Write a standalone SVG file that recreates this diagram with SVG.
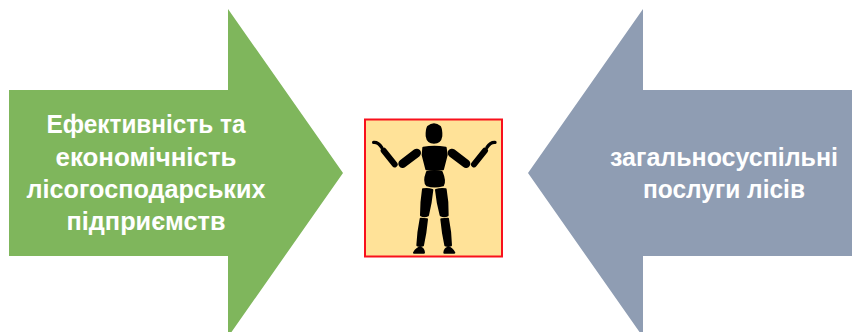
<svg xmlns="http://www.w3.org/2000/svg" width="852" height="332" viewBox="0 0 852 332">
<style>
text{font-family:"Liberation Sans","Open Sans",sans-serif;font-weight:700;font-size:25px;fill:#fff;text-anchor:middle}
.b{fill:#000;stroke:#000;stroke-width:6;stroke-linejoin:round}
.l{stroke:#000;stroke-linecap:round;fill:none}
</style>
<rect width="852" height="332" fill="#fff"/>
<g id="left-arrow">
<polygon points="9,90 228,90 228,9 343,173 228,337 228,256 9,256" fill="#7FB65C"/>
<text x="146" y="133" textLength="199" lengthAdjust="spacingAndGlyphs">Ефективність та</text>
<text x="146" y="166" textLength="181" lengthAdjust="spacingAndGlyphs">економічність</text>
<text x="146" y="198" textLength="239" lengthAdjust="spacingAndGlyphs">лісогосподарських</text>
<text x="146" y="230" textLength="159" lengthAdjust="spacingAndGlyphs">підприємств</text>
</g>
<g id="right-arrow">
<polygon points="528,173 643,9 643,90 852,90 852,256 643,256 643,337" fill="#8F9DB3"/>
<text x="724" y="166" textLength="228" lengthAdjust="spacingAndGlyphs">загальносуспільні</text>
<text x="724" y="198" textLength="162" lengthAdjust="spacingAndGlyphs">послуги лісів</text>
</g>
<g id="figure-node">
<rect x="365" y="119.500" width="137" height="137" fill="#FFE298" stroke="#F8101C" stroke-width="2"/>
<g transform="translate(355,110) scale(.3333)">
<path class="b" d="M219 50Q237 36 255 50Q260 60 259 78Q256 98 237 98Q218 98 215 78Q214 60 219 50Z"/>
<path class="b" d="M205 113Q238 107 272 113L275 135L264 178Q238 182 214 178L203 135Z"/>
<path class="b" d="M216 186Q238 182 260 186Q272 215 264 226Q238 233 216 226Q205 215 216 186Z"/>
<path class="b" d="M204 238Q218 235 232 240Q228 280 219 316Q208 322 198 316Q198 275 204 238Z"/>
<path class="b" d="M243 240Q258 235 272 238Q279 275 278 316Q268 322 257 316Q247 280 243 240Z"/>
<path class="b" d="M197 326L216 328Q212 370 204 406Q195 410 187 406Q189 365 197 326Z"/>
<path class="b" d="M259 328L279 326Q287 365 288 406Q280 410 271 406Q263 370 259 328Z"/>
<path class="b" d="M177 428Q186 412 197 413Q206 416 207 428Z"/>
<path class="b" d="M268 428Q269 416 279 413Q290 412 298 428Z"/>
<line class="l" x1="143" y1="161" x2="185" y2="129" stroke-width="26"/>
<line class="l" x1="291" y1="129" x2="333" y2="161" stroke-width="26"/>
<line class="l" x1="86" y1="122" x2="119" y2="163" stroke-width="18"/>
<line class="l" x1="390" y1="122" x2="357" y2="163" stroke-width="18"/>
<path class="l" d="M56 97Q70 96 80 112" stroke-width="10"/>
<path class="l" d="M420 97Q406 96 396 112" stroke-width="10"/>
</g>
</g>
<g id="connectors"/>
</svg>
